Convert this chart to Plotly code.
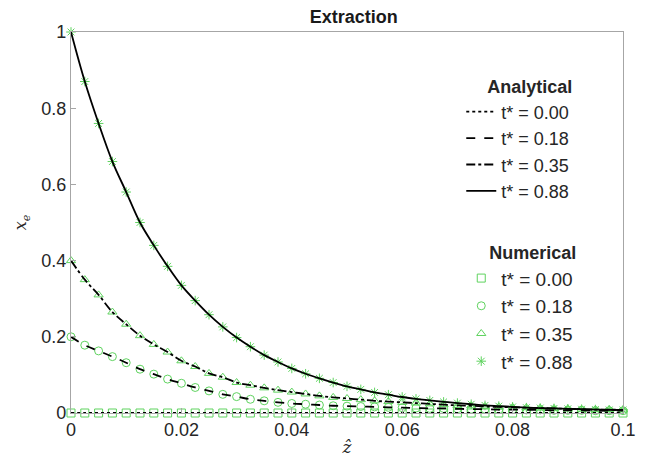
import plotly.graph_objects as go

z = [0.0, 0.0025, 0.005, 0.0075, 0.01, 0.0125, 0.015, 0.0175, 0.02, 0.0225,
     0.025, 0.0275, 0.03, 0.0325, 0.035, 0.0375, 0.04, 0.0425, 0.045, 0.0475,
     0.05, 0.0525, 0.055, 0.0575, 0.06, 0.0625, 0.065, 0.0675, 0.07, 0.0725,
     0.075, 0.0775, 0.08, 0.0825, 0.085, 0.0875, 0.09, 0.0925, 0.095, 0.0975, 0.1]

xe_t000 = [0.0] * 41

xe_t018 = [0.200, 0.178, 0.163, 0.148, 0.132, 0.115, 0.102, 0.089, 0.078, 0.067,
           0.058, 0.049, 0.043, 0.036, 0.032, 0.028, 0.025, 0.023, 0.021, 0.019,
           0.018, 0.017, 0.016, 0.015, 0.014, 0.013, 0.012, 0.012, 0.011, 0.010,
           0.010, 0.009, 0.009, 0.008, 0.008, 0.007, 0.007, 0.007, 0.006, 0.006, 0.006]

xe_t035 = [0.400, 0.350, 0.310, 0.265, 0.233, 0.203, 0.180, 0.160, 0.137, 0.122,
           0.104, 0.094, 0.080, 0.073, 0.066, 0.060, 0.055, 0.050, 0.045, 0.041,
           0.038, 0.035, 0.032, 0.030, 0.028, 0.026, 0.024, 0.022, 0.020, 0.019,
           0.017, 0.016, 0.015, 0.014, 0.013, 0.012, 0.011, 0.010, 0.009, 0.009, 0.008]

xe_t088 = [1.000, 0.870, 0.760, 0.660, 0.580, 0.500, 0.440, 0.385, 0.335, 0.295,
           0.258, 0.226, 0.198, 0.174, 0.152, 0.134, 0.117, 0.103, 0.091, 0.080,
           0.070, 0.062, 0.054, 0.048, 0.042, 0.037, 0.033, 0.029, 0.026, 0.023,
           0.020, 0.018, 0.016, 0.014, 0.013, 0.012, 0.011, 0.010, 0.009, 0.008, 0.008]

labels = ["t* = 0.00", "t* = 0.18", "t* = 0.35", "t* = 0.88"]
series = [xe_t000, xe_t018, xe_t035, xe_t088]
dashes = ["dot", "dash", "dashdot", "solid"]
symbols = ["square-open", "circle-open", "triangle-up-open", "asterisk-open"]

x_ticks = [0, 0.02, 0.04, 0.06, 0.08, 0.1]
x_tick_labels = ["0", "0.02", "0.04", "0.06", "0.08", "0.1"]
y_ticks = [0, 0.2, 0.4, 0.6, 0.8, 1.0]
y_tick_labels = ["0", "0.2", "0.4", "0.6", "0.8", "1"]

GREEN = "#5fd35f"
FONT = "Liberation Sans, Arial, sans-serif"

fig = go.Figure()

for lab, ys, sym in zip(labels, series, symbols):
    fig.add_trace(go.Scatter(
        x=z, y=ys, mode="markers", name=lab, legend="legend2",
        marker=dict(symbol=sym, size=8, color=GREEN, line=dict(color=GREEN, width=1)),
        cliponaxis=False,
    ))

for lab, ys, d in zip(labels, series, dashes):
    fig.add_trace(go.Scatter(
        x=z, y=ys, mode="lines", name=lab, legend="legend",
        line=dict(color="black", width=1.8, dash=d, shape="spline"),
    ))

axis_common = dict(
    showline=True, linecolor="#a6a6a6", linewidth=1.2, mirror=True,
    ticks="inside", ticklen=5, tickcolor="#a6a6a6", showgrid=False, zeroline=False,
    tickfont=dict(family=FONT, size=18, color="#262626"), automargin=False,
)

fig.update_layout(
    width=651, height=465,
    margin=dict(l=63, r=36, t=24, b=60),
    paper_bgcolor="white", plot_bgcolor="white",
    font=dict(family=FONT, size=18, color="#262626"),
    title=dict(text="<b>Extraction</b>", x=0.531, xanchor="center", y=0.995, yanchor="top",
               font=dict(family=FONT, size=18, color="#1a1a1a")),
    xaxis=dict(range=[0, 0.1], tickvals=x_ticks, ticktext=x_tick_labels,
               title=dict(text="<i>ẑ</i>", font=dict(family="DejaVu Serif, serif", size=17), standoff=2),
               **axis_common),
    yaxis=dict(range=[0, 1], tickvals=y_ticks, ticktext=y_tick_labels,
               title=dict(text="<i>x</i><sub><i>e</i></sub>", font=dict(family="DejaVu Serif, serif", size=16), standoff=10),
               **axis_common),
    legend=dict(x=0.707, y=0.90, xanchor="left", yanchor="top", bgcolor="rgba(0,0,0,0)",
                title=dict(text="<b>Analytical</b>", side="top right", font=dict(family=FONT, size=18)),
                font=dict(family=FONT, size=18), itemwidth=30, tracegroupgap=0),
    legend2=dict(x=0.707, y=0.465, xanchor="left", yanchor="top", bgcolor="rgba(0,0,0,0)",
                 title=dict(text="<b>Numerical</b>", side="top right", font=dict(family=FONT, size=18)),
                 font=dict(family=FONT, size=19), itemwidth=30, tracegroupgap=0),
    showlegend=True,
)

fig.write_html("out.html")
